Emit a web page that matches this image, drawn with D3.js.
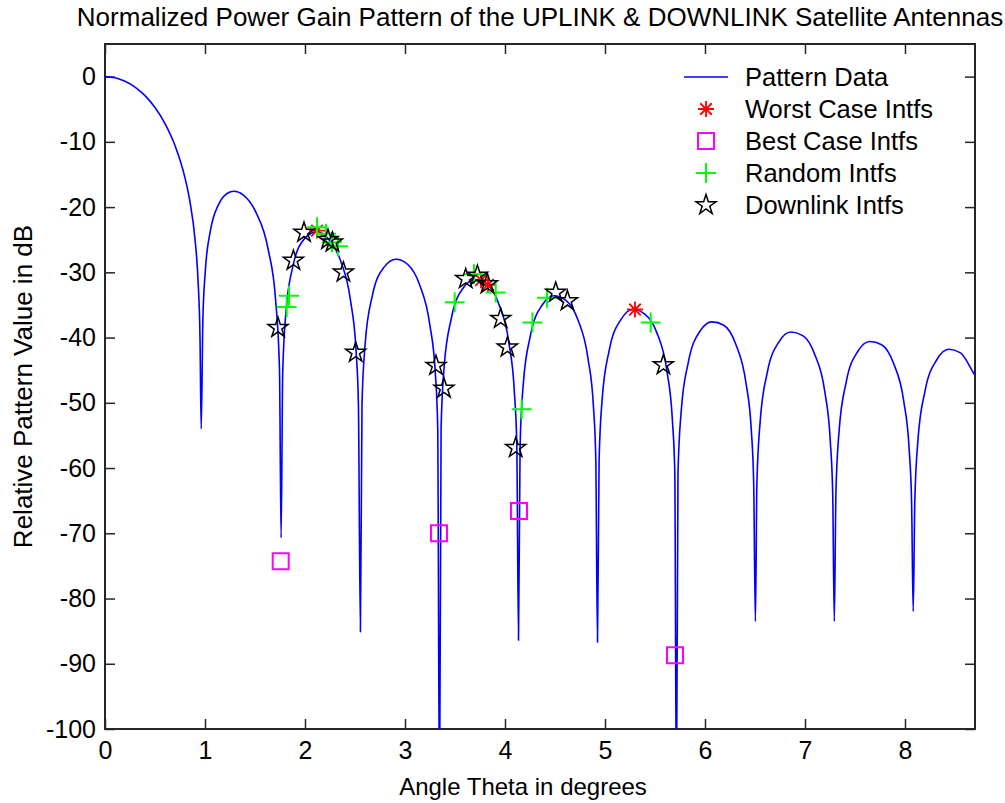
<!DOCTYPE html>
<html>
<head>
<meta charset="utf-8">
<script src="https://cdn.jsdelivr.net/npm/d3@7"></script>
<style>
  body { margin: 0; background: #fff; }
  svg text { font-family: "Liberation Sans", Arial, sans-serif; fill: #000; }
</style>
</head>
<body>
<div id="chart"></div>
<script>
// ---- data ----
// antenna pattern (theta in degrees, gain in dB)
const patternTheta = [
  0, 0.1, 0.2, 0.3, 0.4, 0.5, 0.6, 0.7, 0.8, 0.85, 0.9, 0.93, 0.95, 0.962,
  0.979, 1.004, 1.054, 1.130, 1.255, 1.289, 1.381, 1.506, 1.632, 1.707, 1.745, 1.761,
  1.777, 1.809, 1.880, 1.998, 2.116, 2.235, 2.353, 2.455, 2.511, 2.534, 2.554,
  2.570, 2.602, 2.673, 2.791, 2.909, 3.028, 3.146, 3.248, 3.304, 3.327, 3.345,
  3.361, 3.392, 3.464, 3.582, 3.700, 3.819, 3.937, 4.039, 4.094, 4.118, 4.135,
  4.151, 4.183, 4.254, 4.372, 4.490, 4.609, 4.727, 4.829, 4.885, 4.908, 4.925,
  4.941, 4.972, 5.043, 5.161, 5.280, 5.398, 5.517, 5.619, 5.674, 5.698, 5.714,
  5.730, 5.762, 5.833, 5.951, 6.069, 6.188, 6.306, 6.408, 6.464, 6.487, 6.504,
  6.519, 6.551, 6.622, 6.740, 6.858, 6.977, 7.095, 7.198, 7.253, 7.277, 7.293,
  7.309, 7.340, 7.411, 7.529, 7.648, 7.766, 7.884, 7.987, 8.042, 8.066, 8.082,
  8.098, 8.129, 8.200, 8.318, 8.437, 8.555, 8.673, 8.7
]
const patternGain = [
  0, -0.17, -0.70, -1.60, -2.92, -4.74, -7.19, -10.55, -15.52, -19.2, -24.9, -31.1, -39.9, -54,
  -37.0, -29.6, -23.6, -19.77, -17.65, -17.57, -18.12, -20.7, -26.5, -34.4, -44.9, -70.7,
  -45.5, -36.2, -29.0, -24.8, -23.8, -24.9, -28.1, -34.3, -42.1, -50.1, -85.1,
  -50.3, -40.9, -33.6, -29.2, -28.0, -28.8, -31.9, -38.0, -45.6, -53.7, -112,
  -53.8, -44.4, -37.0, -32.4, -31.1, -31.8, -34.8, -40.8, -48.4, -56.4, -86.4,
  -56.5, -47.1, -39.7, -35.0, -33.6, -34.3, -37.2, -43.1, -50.7, -58.7, -86.7,
  -58.8, -49.4, -41.9, -37.2, -35.7, -36.4, -39.2, -45.1, -52.7, -60.7, -112,
  -60.7, -51.3, -43.8, -39.0, -37.6, -38.1, -40.95, -46.8, -54.4, -62.4, -83.5,
  -62.4, -53.0, -45.4, -40.65, -39.15, -39.7, -42.5, -48.3, -55.9, -63.9, -83.5,
  -63.9, -54.5, -46.9, -42.1, -40.6, -41.1, -43.9, -49.7, -57.2, -65.2, -82,
  -65.2, -55.8, -48.2, -43.4, -41.8, -42.35, -45.1, -45.8
]

// interferers
const worstTheta = [2.12, 3.76, 3.83, 5.30]
const worstGain = [-23.6, -31.2, -31.9, -35.7]

const bestTheta = [1.757, 3.34, 4.14, 5.70]
const bestGain = [-74.3, -70.0, -66.6, -88.7]

const randomTheta = [1.817, 1.84, 2.12, 2.21, 2.27, 2.33, 3.497, 3.69, 3.907, 4.167, 4.274, 4.42, 5.457]
const randomGain = [-35.3, -33.6, -23.1, -24.1, -25.4, -26.0, -34.6, -30.3, -33.1, -51.0, -37.7, -33.9, -37.7]

const downTheta = [1.73, 1.884, 1.99, 2.23, 2.274, 2.384, 2.507, 3.31, 3.39, 3.607, 3.724, 3.824, 3.957, 4.024, 4.107, 4.507, 4.624, 5.584]
const downGain = [-38.5, -28.2, -23.9, -25.0, -25.4, -30.0, -42.3, -44.3, -47.8, -31.0, -30.5, -31.8, -37.1, -41.5, -56.9, -33.1, -34.4, -44.2]

const xTicks = [0, 1, 2, 3, 4, 5, 6, 7, 8]
const yTicks = [0, -10, -20, -30, -40, -50, -60, -70, -80, -90, -100]

const legendLabels = ["Pattern Data", "Worst Case Intfs", "Best Case Intfs", "Random Intfs", "Downlink Intfs"]

// ---- layout ----
const width = 1005
const height = 803
const plotLeft = 105, plotRight = 975, plotTop = 44, plotBottom = 729
const fontFamily = '"Liberation Sans", Arial, sans-serif'

const svg = d3.select('#chart').append('svg')
  .attr('width', width)
  .attr('height', height)
  .style('background', '#fff')

const x = d3.scaleLinear().domain([0, 8.7]).range([plotLeft, plotRight])
const y = d3.scaleLinear().domain([-100, 5]).range([plotBottom, plotTop])

svg.append('clipPath').attr('id', 'plotClip')
  .append('rect')
  .attr('x', plotLeft).attr('y', plotTop)
  .attr('width', plotRight - plotLeft).attr('height', plotBottom - plotTop)

// title
svg.append('text')
  .attr('x', (plotLeft + plotRight) / 2)
  .attr('y', 26)
  .attr('text-anchor', 'middle')
  .attr('font-size', 26)
  .text('Normalized Power Gain Pattern of the UPLINK & DOWNLINK Satellite Antennas')

// axes (ticks point inward, MATLAB style)
function styleAxis(g) {
  g.select('.domain').remove()
  g.selectAll('.tick line').attr('stroke', '#262626').attr('stroke-width', 1.5)
  g.selectAll('.tick text').attr('font-size', 25).attr('font-family', fontFamily)
}
const plainNum = d => String(d)

svg.append('g')
  .attr('transform', 'translate(0,' + plotBottom + ')')
  .call(d3.axisBottom(x).tickValues(xTicks).tickSize(-10).tickPadding(12).tickFormat(plainNum))
  .call(styleAxis)

svg.append('g')
  .attr('transform', 'translate(0,' + plotTop + ')')
  .call(d3.axisTop(x).tickValues(xTicks).tickSize(-10).tickFormat(''))
  .call(styleAxis)

svg.append('g')
  .attr('transform', 'translate(' + plotLeft + ',0)')
  .call(d3.axisLeft(y).tickValues(yTicks).tickSize(-10).tickPadding(9).tickFormat(plainNum))
  .call(styleAxis)

svg.append('g')
  .attr('transform', 'translate(' + plotRight + ',0)')
  .call(d3.axisRight(y).tickValues(yTicks).tickSize(-10).tickFormat(''))
  .call(styleAxis)

svg.append('rect')
  .attr('x', plotLeft).attr('y', plotTop)
  .attr('width', plotRight - plotLeft).attr('height', plotBottom - plotTop)
  .attr('fill', 'none')
  .attr('stroke', '#262626')
  .attr('stroke-width', 2)

// axis labels
svg.append('text')
  .attr('x', 523)
  .attr('y', 795)
  .attr('text-anchor', 'middle')
  .attr('font-size', 24)
  .text('Angle Theta in degrees')

svg.append('text')
  .attr('transform', 'translate(32,' + (plotTop + plotBottom) / 2 + ') rotate(-90)')
  .attr('text-anchor', 'middle')
  .attr('font-size', 26)
  .text('Relative Pattern Value in dB')

// marker shapes
const starPath = function (R) {
  const r = R * 0.382
  const pts = []
  for (let i = 0; i < 10; i++) {
    const a = -Math.PI / 2 + i * Math.PI / 5
    const rr = i % 2 === 0 ? R : r
    pts.push([rr * Math.cos(a), rr * Math.sin(a)])
  }
  return 'M' + pts.map(p => p[0].toFixed(2) + ',' + p[1].toFixed(2)).join('L') + 'Z'
}
const plusPath = s => 'M' + (-s) + ',0H' + s + 'M0,' + (-s) + 'V' + s
const asteriskPath = s => {
  const d = s * 0.72
  return plusPath(s) + 'M' + (-d) + ',' + (-d) + 'L' + d + ',' + d + 'M' + (-d) + ',' + d + 'L' + d + ',' + (-d)
}
const squarePath = s => 'M' + (-s) + ',' + (-s) + 'H' + s + 'V' + s + 'H' + (-s) + 'Z'

const markerStyles = [
  null,
  { path: asteriskPath(8), color: '#ff0000', width: 1.8 },
  { path: squarePath(8), color: '#ff00ff', width: 2 },
  { path: plusPath(10), color: '#00ff00', width: 2 },
  { path: starPath(10.5), color: '#000000', width: 1.5 }
]

const plot = svg.append('g').attr('clip-path', 'url(#plotClip)')

// pattern curve
const patternData = patternTheta.map((t, i) => [t, patternGain[i]])
const line = d3.line()
  .x(d => x(d[0]))
  .y(d => y(d[1]))
  .curve(d3.curveMonotoneX)

plot.append('path')
  .datum(patternData)
  .attr('d', line)
  .attr('fill', 'none')
  .attr('stroke', '#0000ff')
  .attr('stroke-width', 1.6)

function drawMarkers(thetas, gains, style) {
  plot.append('g')
    .selectAll('path')
    .data(thetas.map((t, i) => [t, gains[i]]))
    .enter()
    .append('path')
    .attr('d', style.path)
    .attr('transform', d => 'translate(' + x(d[0]) + ',' + y(d[1]) + ')')
    .attr('fill', 'none')
    .attr('stroke', style.color)
    .attr('stroke-width', style.width)
}

drawMarkers(worstTheta, worstGain, markerStyles[1])
drawMarkers(bestTheta, bestGain, markerStyles[2])
drawMarkers(randomTheta, randomGain, markerStyles[3])
drawMarkers(downTheta, downGain, markerStyles[4])

// legend (no box)
const legend = svg.append('g')
const legendX = 684, legendTextX = 745, legendY0 = 77, legendStep = 32

legend.selectAll('text')
  .data(legendLabels)
  .enter()
  .append('text')
  .attr('x', legendTextX)
  .attr('y', (d, i) => legendY0 + i * legendStep)
  .attr('dy', '0.35em')
  .attr('font-size', 25.5)
  .text(d => d)

legend.append('line')
  .attr('x1', legendX).attr('x2', legendX + 44)
  .attr('y1', legendY0).attr('y2', legendY0)
  .attr('stroke', '#0000ff')
  .attr('stroke-width', 1.6)

legend.selectAll('path.mk')
  .data(markerStyles.slice(1))
  .enter()
  .append('path')
  .attr('class', 'mk')
  .attr('d', d => d.path)
  .attr('transform', (d, i) => 'translate(' + (legendX + 22) + ',' + (legendY0 + (i + 1) * legendStep) + ')')
  .attr('fill', 'none')
  .attr('stroke', d => d.color)
  .attr('stroke-width', d => d.width)
</script>
</body>
</html>
